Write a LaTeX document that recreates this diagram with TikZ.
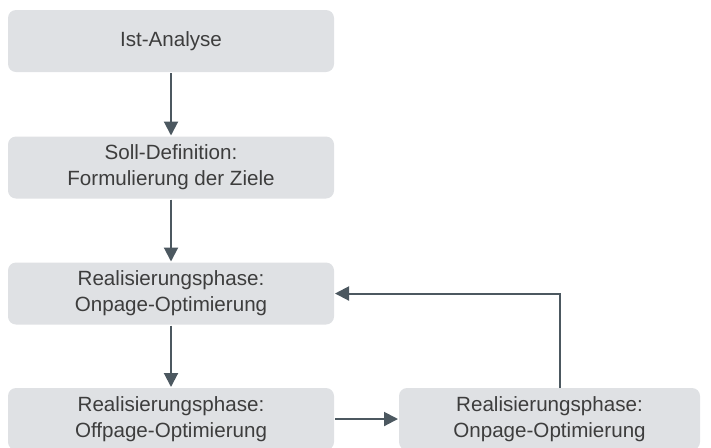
\documentclass[tikz,border=0pt]{standalone}
\usepackage{fontspec}
\setmainfont{Liberation Sans}
\usetikzlibrary{arrows.meta}
\definecolor{boxgris}{rgb}{0.875, 0.882, 0.894}
\definecolor{pfeil}{rgb}{0.30, 0.345, 0.375}
\definecolor{schrift}{rgb}{0.24, 0.24, 0.24}

\begin{document}
\begin{tikzpicture}[x=0.5pt, y=-0.5pt, ->, >={Triangle[length=7pt,width=7pt]}, line width=1pt, draw=pfeil]
  \tikzstyle{phase}=[rectangle, rounded corners=4pt, fill=boxgris, draw=none, text=schrift, align=center,
    minimum width=163pt, minimum height=31pt, inner sep=0pt, font=\fontsize{10.3}{13}\selectfont]
  \useasboundingbox (0,0) rectangle (711,447);
  \clip (0,0) rectangle (711,447);

	\node[phase] (Ist) at (171,41) {Ist-Analyse};
	\node[phase] (Soll) at (171,167.5) {Soll-Definition:\\Formulierung der Ziele};
	\node[phase] (OnA) at (171,293.5) {Realisierungsphase:\\Onpage-Optimierung};
	\node[phase] (Off) at (171,419) {Realisierungsphase:\\Offpage-Optimierung};
	\node[phase, minimum width=150.5pt] (OnB) at (549.5,419) {Realisierungsphase:\\Onpage-Optimierung};
	\coordinate (ret) at (560,388);

	\path[draw=pfeil]
		(Ist) edge (Soll)
		(Soll) edge (OnA)
		(OnA) edge (Off)
		(Off) edge (OnB)
		;
	\draw[pfeil] (ret) |- (OnA);

\end{tikzpicture}
\end{document}
